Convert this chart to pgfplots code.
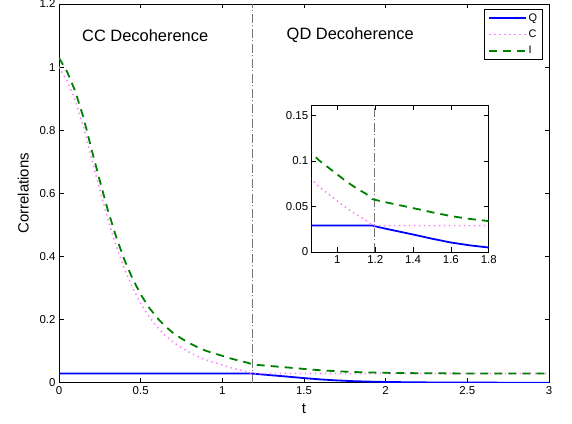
\documentclass[border=0pt]{standalone}
\usepackage{fontspec}
\setmainfont{Liberation Sans}
\usepackage{pgfplots}
\pgfplotsset{compat=1.18}
\usepackage{pgfplotstable}

\definecolor{qblue}{rgb}{0,0,1}
\definecolor{cpink}{rgb}{1,0.5,1}
\definecolor{igreen}{rgb}{0,0.5,0}
\definecolor{tcgray}{rgb}{0.45,0.45,0.45}

% quantum discord
\pgfplotstableread{
t Q
0 0.029
1.185 0.029
1.22 0.0272
1.25 0.0258
1.30 0.0236
1.40 0.0192
1.50 0.0146
1.60 0.0104
1.70 0.0073
1.80 0.0049
1.90 0.0034
2.00 0.0023
2.20 0.0011
2.40 0.0005
2.60 0.0002
2.80 0.0001
3.00 0.0000
}\Qdata

% classical correlation
\pgfplotstableread{
t C
0 1.000
0.05 0.956
0.10 0.894
0.15 0.811
0.20 0.709
0.25 0.611
0.30 0.516
0.35 0.433
0.40 0.361
0.45 0.301
0.50 0.251
0.55 0.210
0.60 0.177
0.65 0.150
0.70 0.128
0.75 0.111
0.80 0.096
0.85 0.083
0.90 0.072
0.95 0.064
1.00 0.056
1.05 0.048
1.10 0.041
1.15 0.035
1.185 0.029
3.00 0.029
}\Cdata

% total correlation
\pgfplotstableread{
t I
0 1.029
0.05 0.985
0.10 0.923
0.15 0.840
0.20 0.738
0.25 0.640
0.30 0.545
0.35 0.462
0.40 0.390
0.45 0.330
0.50 0.280
0.55 0.239
0.60 0.206
0.65 0.179
0.70 0.157
0.75 0.140
0.80 0.125
0.85 0.112
0.90 0.101
0.95 0.093
1.00 0.085
1.05 0.077
1.10 0.070
1.15 0.064
1.185 0.058
1.22 0.0562
1.25 0.0548
1.30 0.0526
1.40 0.0482
1.50 0.0436
1.60 0.0394
1.70 0.0363
1.80 0.0339
1.90 0.0324
2.00 0.0313
2.20 0.0301
2.40 0.0295
2.60 0.0292
2.80 0.0291
3.00 0.0290
}\Idata

\pgfplotsset{
  mat/.style={
    scale only axis,
    anchor=south west,
    axis line style={black, line width=0.6bp},
    tick align=inside,
    major tick length=4.5bp,
    tick style={black, line width=0.5bp},
    tick label style={font=\fontsize{11.5}{13}\selectfont},
    /pgf/number format/assume math mode=true,
    clip=true,
  },
  Qstyle/.style={qblue, line width=1.8bp},
  Cstyle/.style={cpink, line width=1.6bp, dash pattern=on 1.4bp off 3.6bp},
  Istyle/.style={igreen, line width=1.8bp, dash pattern=on 8bp off 6bp},
  tcline/.style={tcgray, line width=1bp, dash pattern=on 9bp off 2.5bp on 1bp off 2.5bp},
}

\begin{document}
\begin{tikzpicture}
\useasboundingbox (0,0) rectangle (572bp,424bp);

\begin{axis}[
    mat,
    at={(59bp,41.3bp)},
    width=490bp, height=378.7bp,
    xmin=0, xmax=3, ymin=0, ymax=1.2,
    xtick={0,0.5,1,1.5,2,2.5,3},
    xticklabels={0,0.5,1,1.5,2,2.5,3},
    ytick={0,0.2,0.4,0.6,0.8,1,1.2},
    yticklabels={0,0.2,0.4,0.6,0.8,1,1.2},
    xlabel={t}, ylabel={Correlations},
    label style={font=\fontsize{15}{17}\selectfont},
    xlabel style={yshift=-3bp},
    ylabel style={yshift=4bp},
    legend image code/.code={\draw[#1] (0bp,0bp) -- (37bp,0bp);},
    legend style={at={(1,1)}, anchor=north east, xshift=-6bp, yshift=-5bp,
      font=\fontsize{11}{12}\selectfont, draw=black, line width=0.6bp,
      inner xsep=4bp, inner ysep=3bp, row sep=4bp,
      nodes={inner xsep=1.5bp, inner ysep=1.5bp}},
    legend cell align=left,
]
\addplot[tcline, forget plot] coordinates {(1.185,0) (1.185,1.2)};
\addplot[Qstyle] table[x=t, y=Q] {\Qdata};
\addplot[Cstyle] table[x=t, y=C] {\Cdata};
\addplot[Istyle] table[x=t, y=I] {\Idata};
\legend{Q, C, I}
\node[font=\fontsize{16.5}{18}\selectfont] at (axis cs:0.528,1.10) {CC Decoherence};
\node[font=\fontsize{16.5}{18}\selectfont] at (axis cs:1.783,1.10) {QD Decoherence};
\end{axis}

\begin{axis}[
    mat,
    at={(311.7bp,172bp)},
    width=177bp, height=146.7bp,
    axis background/.style={fill=white},
    xmin=0.864, xmax=1.8, ymin=0, ymax=0.161,
    xtick={1,1.2,1.4,1.6,1.8},
    xticklabels={1,1.2,1.4,1.6,1.8},
    ytick={0,0.05,0.1,0.15},
    yticklabels={0,0.05,0.1,0.15},
]
\addplot[tcline] coordinates {(1.195,0) (1.195,0.161)};
\addplot[Qstyle] table[x=t, y=Q] {\Qdata};
\addplot[Cstyle] table[x=t, y=C] {\Cdata};
\addplot[Istyle] table[x=t, y=I] {\Idata};
\end{axis}
\end{tikzpicture}
\end{document}
